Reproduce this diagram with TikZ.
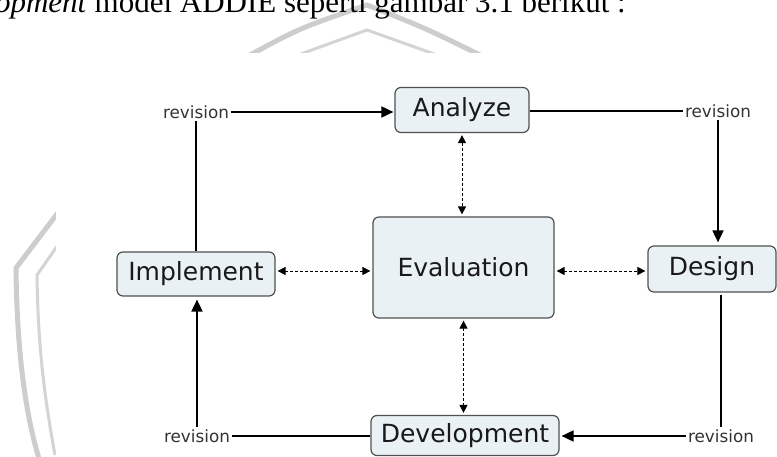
\documentclass[tikz,border=0pt]{standalone}
\usepackage{fontspec}
\setmainfont{DejaVu Sans}
\newfontfamily\boxfont{DejaVu Sans}
\newfontfamily\topfont{Liberation Serif}
\usetikzlibrary{arrows.meta}
\definecolor{boxfill}{HTML}{EAF1F4}
\definecolor{boxline}{HTML}{505050}
\definecolor{wm}{HTML}{CDCDCD}
\begin{document}
\begin{tikzpicture}[x=1pt,y=-1pt,
  box/.style={draw=boxline, line width=1.2pt, fill=boxfill, rounded corners=6pt,
    font=\boxfont\fontsize{25}{28}\selectfont, text=black!90, inner sep=0pt},
  rev/.style={font=\boxfont\fontsize{16.8}{19}\selectfont, text=black!80, inner sep=2pt},
  conn/.style={line width=1.8pt, draw=black},
  tipped/.style={conn, -{Triangle[length=12pt,width=11pt]}},
  dconn/.style={line width=0.9pt, draw=black, dash pattern=on 3pt off 2pt,
    {Triangle[length=8pt,width=8pt]}-{Triangle[length=8pt,width=8pt]},
    shorten <=2pt, shorten >=2pt},
  wmline/.style={draw=wm, line width=5pt},
  wmthin/.style={draw=wm!85, line width=3pt}
]
\useasboundingbox (0,0) rectangle (777,457);
\clip (0,0) rectangle (777,457);
\fill[white] (0,0) rectangle (777,457);

% watermark
\draw[wmline] (250,55) .. controls (300,28) .. (367,5) .. controls (425,28) .. (480,55);
\draw[wmthin] (298,55) -- (367,30) -- (437,55);
\draw[wmline] (60,210) -- (16,268) .. controls (17,360) and (27,420) .. (40,462);
\draw[wmthin] (60,242) -- (37,275) .. controls (38,350) and (45,400) .. (55,455);
\fill[white] (56,53) rectangle (777,457);

% top text line
\node[font=\topfont\fontsize{31}{34}\selectfont, anchor=base east, inner sep=0pt]
  (toptext) at (626,13) {\textit{development} model ADDIE seperti gambar 3.1 berikut :};

% boxes
\node[box, minimum width=134pt, minimum height=45pt] (ana) at (462,110) {Analyze};
\node[box, minimum width=181pt, minimum height=101pt] (eva) at (463.5,267.5) {Evaluation};
\node[box, minimum width=128pt, minimum height=46pt] (des) at (712,269) {Design};
\node[box, minimum width=158pt, minimum height=44pt] (imp) at (196,274) {Implement};
\node[box, minimum width=188pt, minimum height=40pt] (dev) at (465,435.5) {Development};

% revision labels
\node[rev] (r1) at (196,112) {revision};
\node[rev] (r2) at (718,111) {revision};
\node[rev] (r3) at (721,436) {revision};
\node[rev] (r4) at (197,436) {revision};

% cycle connectors
\draw[tipped, shorten >=1pt] (r1.east) -- (r1.east -| ana.west);
\draw[conn] (ana.east |- r2.west) -- (r2.west);
\draw[tipped, shorten >=3pt] (r2.south) -- (r2.south |- des.north);
\draw[conn] (r3.north |- des.south) ++(0,2) -- (r3.north);
\draw[tipped, shorten >=2pt] (r3.west) -- (r3.west -| dev.east);
\draw[conn] (dev.west |- r4.east) -- (r4.east);
\draw[tipped, shorten >=3pt] (r4.north) -- (r4.north |- imp.south);
\draw[conn] (imp.north) -- (r1.south);

% dashed evaluation links
\draw[dconn] (imp.east |- 0,271) -- (eva.west |- 0,271);
\draw[dconn] (eva.east |- 0,271) -- (des.west |- 0,271);
\draw[dconn] (ana.south) -- (ana.south |- eva.north);
\draw[dconn] (eva.south) -- (eva.south |- dev.north);
\end{tikzpicture}
\end{document}
